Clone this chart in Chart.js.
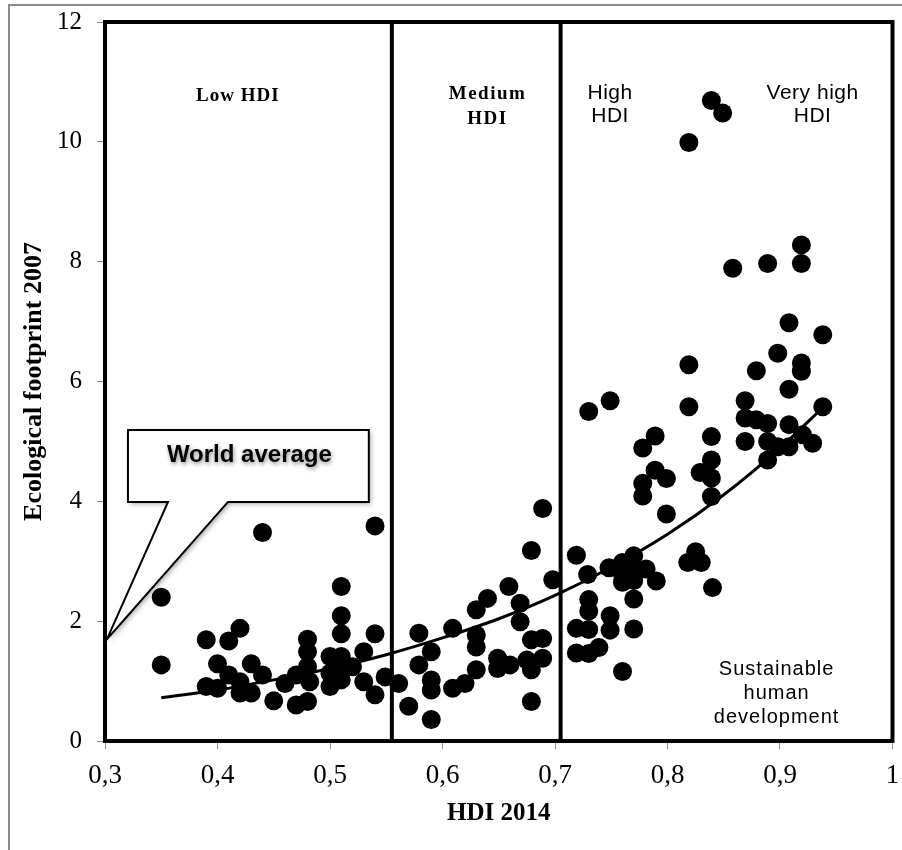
<!DOCTYPE html>
<html>
<head>
<meta charset="utf-8">
<script src="https://cdn.jsdelivr.net/npm/chart.js@4.4.0/dist/chart.umd.min.js"></script>
<style>
  body { margin: 0; background: #fff; }
  #wrap { position: relative; width: 902px; height: 850px; overflow: hidden; }
  #edge { position: absolute; left: 8px; top: 4px; width: 900px; height: 850px;
          border-left: 2px solid #8c8c8c; border-top: 2px solid #8c8c8c; }
  #chart { position: absolute; left: 0; top: 0; }
</style>
</head>
<body>
<div id="wrap">
  <div id="edge"></div>
  <canvas id="chart" width="902" height="850"></canvas>
</div>
<script>
// HDI 2014 (x) and ecological footprint 2007 (y) per country
const hdi2014 = [
  0.35, 0.35, 0.39, 0.39, 0.40, 0.40, 0.41, 0.41, 0.42, 0.42, 0.42, 0.43, 0.43, 0.44, 0.44,
  0.45, 0.46, 0.47, 0.47, 0.48, 0.48, 0.48, 0.482, 0.48, 0.50, 0.50, 0.50, 0.51, 0.51, 0.51,
  0.51, 0.51, 0.51, 0.52, 0.53, 0.53, 0.54, 0.54, 0.54, 0.549,
  0.561, 0.57, 0.579, 0.579, 0.59, 0.59, 0.59, 0.59, 0.609, 0.609, 0.62, 0.63, 0.63, 0.63,
  0.63, 0.64, 0.649, 0.649, 0.659, 0.66, 0.669, 0.669, 0.675, 0.679, 0.679, 0.679, 0.679,
  0.689, 0.689, 0.689, 0.698,
  0.719, 0.729, 0.730, 0.730, 0.719, 0.730, 0.719, 0.730, 0.739, 0.749, 0.749, 0.748, 0.760,
  0.770, 0.760, 0.770, 0.760, 0.770, 0.781, 0.790, 0.770, 0.770, 0.760, 0.730, 0.749, 0.778,
  0.789, 0.789, 0.778, 0.799, 0.778, 0.799,
  0.818, 0.825, 0.830, 0.840, 0.839, 0.849, 0.819, 0.919, 0.919, 0.889, 0.858, 0.908, 0.938,
  0.898, 0.819, 0.919, 0.919, 0.879, 0.908, 0.819, 0.869, 0.938, 0.869, 0.879, 0.889, 0.908,
  0.869, 0.889, 0.898, 0.908, 0.920, 0.929, 0.889, 0.839, 0.839, 0.829, 0.839, 0.839
];
const footprint2007 = [
  2.40, 1.27, 1.69, 0.91, 1.29, 0.88, 1.67, 1.10, 1.88, 0.99, 0.80, 1.29, 0.80, 3.48, 1.10,
  0.67, 0.96, 1.10, 0.60, 1.70, 1.49, 1.24, 0.99, 0.66, 1.41, 1.13, 0.91, 2.58, 2.09, 1.79,
  1.41, 1.19, 1.02, 1.24, 1.49, 0.99, 3.59, 1.79, 0.77, 1.07,
  0.96, 0.58, 1.80, 1.27, 1.49, 1.02, 0.85, 0.36, 1.88, 0.88, 0.96, 2.19, 1.77, 1.57,
  1.19, 2.38, 1.38, 1.21, 2.58, 1.27, 2.30, 1.99, 1.35, 1.69, 1.19, 0.66, 3.18,
  1.71, 1.38, 3.88, 2.69,
  3.10, 2.78, 2.36, 2.17, 1.88, 1.86, 1.47, 1.46, 1.56, 2.09, 1.85, 2.89, 2.98,
  3.09, 2.78, 2.87, 2.65, 2.68, 2.87, 2.67, 2.37, 1.87, 1.16, 5.50, 5.68, 4.89,
  5.09, 4.52, 4.30, 4.38, 4.09, 3.79,
  2.98, 3.16, 2.98, 2.56, 10.69, 10.48, 9.99, 8.28, 7.97, 7.97, 7.89, 6.98, 6.78,
  6.47, 6.28, 6.31, 6.17, 6.18, 5.87, 5.58, 5.68, 5.58, 5.39, 5.36, 5.30, 5.28,
  5.00, 5.00, 4.91, 4.91, 5.11, 4.97, 4.69, 5.08, 4.69, 4.48, 4.39, 4.08
];

// trend curve
const trendHdi = [0.35, 0.40, 0.45, 0.50, 0.55, 0.60, 0.65, 0.70, 0.75, 0.80, 0.85, 0.90, 0.94];
const trendFootprint = [0.72, 0.85, 1.02, 1.21, 1.44, 1.72, 2.04, 2.43, 2.90, 3.45, 4.11, 4.89, 5.60];

// HDI class boundaries, world average
const hdiBounds = [0.555, 0.705];
const worldAverage = 1.7;

const yTicks = [0, 2, 4, 6, 8, 10, 12];

const serif = '"Liberation Serif", "DejaVu Serif", serif';
const sans = '"Liberation Sans", Arial, sans-serif';

function pts(xs, ys) {
  return xs.map((x, i) => ({ x: x, y: ys[i] }));
}

// region labels: text lines anchored in data units
const regionLabels = [
  { lines: ['Low HDI'], x: 0.418, y: 10.76, font: 'bold 19px ' + serif, spacing: '1px' },
  { lines: ['Medium', 'HDI'], x: 0.640, y: 10.80, font: 'bold 19px ' + serif, spacing: '1.5px', gap: 25 },
  { lines: ['High', 'HDI'], x: 0.749, y: 10.81, font: '21px ' + sans, spacing: '0.5px', gap: 23 },
  { lines: ['Very high', 'HDI'], x: 0.929, y: 10.81, font: '21px ' + sans, spacing: '0.5px', gap: 23 },
  { lines: ['Sustainable', 'human', 'development'], x: 0.897, y: 1.19, font: '20px ' + sans, spacing: '1px', gap: 24 }
];

const decor = {
  id: 'decor',
  beforeDatasetsDraw(chart) {
    const { ctx, chartArea: a, scales: { x, y } } = chart;
    ctx.save();
    ctx.strokeStyle = '#000';
    ctx.lineWidth = 4;
    ctx.strokeRect(a.left, a.top, a.right - a.left, a.bottom - a.top);
    hdiBounds.forEach(b => {
      const px = x.getPixelForValue(b);
      ctx.beginPath();
      ctx.moveTo(px, a.top);
      ctx.lineTo(px, a.bottom);
      ctx.stroke();
    });
    ctx.fillStyle = '#000';
    ctx.textAlign = 'center';
    ctx.textBaseline = 'middle';
    regionLabels.forEach(l => {
      ctx.font = l.font;
      ctx.letterSpacing = l.spacing || '0px';
      const px = x.getPixelForValue(l.x);
      const py = y.getPixelForValue(l.y);
      l.lines.forEach((t, i) => ctx.fillText(t, px, py + i * (l.gap || 0)));
    });
    ctx.restore();
  },
  afterDraw(chart) {
    const { ctx, scales: { x, y } } = chart;
    const L = x.getPixelForValue(0.3204), R = x.getPixelForValue(0.5345);
    const T = y.getPixelForValue(5.19), B = y.getPixelForValue(3.99);
    const p1 = x.getPixelForValue(0.356), p2 = x.getPixelForValue(0.4093);
    const tipX = x.getPixelForValue(0.3) + 2, tipY = y.getPixelForValue(worldAverage);
    ctx.save();
    ctx.beginPath();
    ctx.moveTo(L, T);
    ctx.lineTo(R, T);
    ctx.lineTo(R, B);
    ctx.lineTo(p2, B);
    ctx.lineTo(tipX, tipY);
    ctx.lineTo(p1, B);
    ctx.lineTo(L, B);
    ctx.closePath();
    ctx.shadowColor = 'rgba(0,0,0,0.35)';
    ctx.shadowBlur = 5;
    ctx.shadowOffsetX = 2;
    ctx.shadowOffsetY = 2;
    ctx.fillStyle = '#fff';
    ctx.fill();
    ctx.shadowColor = 'transparent';
    ctx.lineWidth = 2;
    ctx.strokeStyle = '#000';
    ctx.lineJoin = 'miter';
    ctx.stroke();
    ctx.font = 'bold 24px ' + sans;
    ctx.textAlign = 'center';
    ctx.textBaseline = 'middle';
    ctx.shadowColor = 'rgba(0,0,0,0.45)';
    ctx.shadowBlur = 4;
    ctx.shadowOffsetX = 1;
    ctx.shadowOffsetY = 2;
    ctx.fillStyle = '#000';
    ctx.fillText('World average', (L + R) / 2 + 1, T + 25);
    ctx.restore();
  }
};

new Chart(document.getElementById('chart'), {
  type: 'scatter',
  data: {
    datasets: [
      {
        label: 'Countries',
        data: pts(hdi2014, footprint2007),
        backgroundColor: '#000',
        borderWidth: 0,
        pointRadius: 9.5,
        pointHoverRadius: 9.5
      },
      {
        label: 'Trend',
        type: 'line',
        data: pts(trendHdi, trendFootprint),
        borderColor: '#000',
        borderWidth: 3,
        pointRadius: 0,
        fill: false,
        cubicInterpolationMode: 'monotone'
      }
    ]
  },
  options: {
    responsive: false,
    devicePixelRatio: 1,
    animation: false,
    events: [],
    layout: { padding: { top: 22, right: 9, left: 0, bottom: 0 } },
    plugins: { legend: { display: false }, tooltip: { enabled: false } },
    scales: {
      x: {
        type: 'linear',
        min: 0.3,
        max: 1,
        afterFit: s => { s.height = 109; s.paddingLeft = 0; s.paddingRight = 0; },
        grid: { drawOnChartArea: false, drawTicks: true, tickLength: 8, color: '#8c8c8c' },
        border: { display: true, color: '#8c8c8c' },
        ticks: {
          stepSize: 0.1,
          padding: 11,
          color: '#000',
          font: { family: serif, size: 27 },
          maxRotation: 0,
          callback: v => String(Math.round(v * 10) / 10).replace('.', ',')
        },
        title: {
          display: true,
          text: 'HDI 2014',
          color: '#000',
          font: { family: serif, size: 25, weight: 'bold' },
          padding: { top: 0, bottom: 21 }
        }
      },
      y: {
        type: 'linear',
        min: 0,
        max: 12,
        afterFit: s => { s.width = 105; s.paddingTop = 0; s.paddingBottom = 0; },
        afterBuildTicks: s => { s.ticks = yTicks.map(v => ({ value: v })); },
        grid: { drawOnChartArea: false, drawTicks: true, tickLength: 8, color: '#8c8c8c' },
        border: { display: true, color: '#8c8c8c' },
        ticks: {
          padding: 15,
          color: '#000',
          font: { family: serif, size: 25 }
        },
        title: {
          display: true,
          text: 'Ecological footprint 2007',
          color: '#000',
          font: { family: serif, size: 26, weight: 'bold' },
          padding: { top: 19, bottom: 0 }
        }
      }
    }
  },
  plugins: [decor]
});
</script>
</body>
</html>
